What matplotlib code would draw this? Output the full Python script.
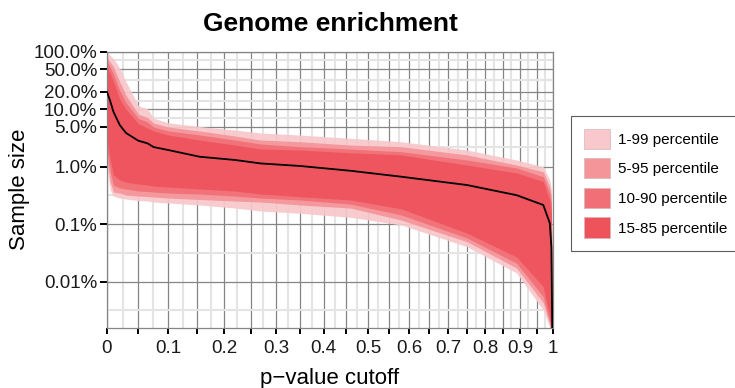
import numpy as np
import matplotlib
matplotlib.use("Agg")
import matplotlib.pyplot as plt
import matplotlib.patches as mpatches
from matplotlib.ticker import NullFormatter

plt.rcParams['font.family'] = ['Liberation Sans', 'DejaVu Sans']

# p-value cutoffs where the curves were read
pval = [0, 0.005, 0.01, 0.02, 0.03, 0.05, 0.065, 0.075, 0.1, 0.155, 0.22, 0.27,
        0.35, 0.46, 0.58, 0.75, 0.89, 0.97, 0.99, 0.995, 1.0]

# sample size (%) - percentile bands and median
u1 = [96, 86, 76, 52, 30, 11.5, 10.2, 7.0, 5.8, 5.0, 4.35, 3.86, 3.56, 3.12, 2.72, 1.95, 1.31, 1.0, 0.59, 0.4, 0.0001]
u5 = [80, 66, 55, 30, 17.5, 8.2, 7.2, 5.75, 4.9, 4.18, 3.42, 2.91, 2.72, 2.38, 2.23, 1.6, 1.07, 0.82, 0.45, 0.3, 0.0001]
u10 = [68, 54, 41, 21, 13, 6.9, 6.0, 4.9, 4.18, 3.56, 2.91, 2.48, 2.23, 2.03, 1.82, 1.31, 0.95, 0.67, 0.35, 0.22, 0.0001]
u15 = [57, 42, 30.5, 15, 10, 5.6, 4.71, 4.18, 3.56, 2.91, 2.38, 2.03, 1.95, 1.75, 1.6, 1.07, 0.78, 0.55, 0.26, 0.15, 0.0001]
med = [20, 13.9, 9.05, 5.31, 3.86, 2.83, 2.55, 2.2, 1.95, 1.49, 1.31, 1.14, 1.03, 0.85, 0.67, 0.48, 0.32, 0.216, 0.105, 0.04, 0.0001]
l15 = [2.9, 1.31, 0.72, 0.59, 0.54, 0.50, 0.48, 0.46, 0.444, 0.41, 0.378, 0.335, 0.301, 0.264, 0.185, 0.070, 0.027, 0.0082, 0.0025, 0.0012, 0.0001]
l10 = [1.95, 0.81, 0.48, 0.426, 0.41, 0.378, 0.37, 0.363, 0.349, 0.335, 0.309, 0.285, 0.264, 0.224, 0.145, 0.0575, 0.021, 0.0055, 0.002, 0.001, 0.0001]
l5 = [1.31, 0.54, 0.363, 0.349, 0.322, 0.309, 0.303, 0.297, 0.285, 0.269, 0.253, 0.243, 0.216, 0.191, 0.118, 0.0496, 0.0173, 0.0043, 0.0018, 0.0009, 0.0001]
l1 = [0.95, 0.39, 0.309, 0.285, 0.274, 0.258, 0.253, 0.243, 0.234, 0.216, 0.191, 0.170, 0.155, 0.132, 0.097, 0.0406, 0.0142, 0.0032, 0.0016, 0.0008, 0.0001]

band_labels = ["1-99 percentile", "5-95 percentile", "10-90 percentile", "15-85 percentile"]
band_colors = ["#f8c8cc", "#f4959a", "#f16f76", "#ee535c"]

y_breaks = [0.01, 0.1, 1, 5, 10, 20, 50, 100]
y_labels = ["0.01%", "0.1%", "1.0%", "5.0%", "10.0%", "20.0%", "50.0%", "100.0%"]
x_breaks = [round(0.05 * i, 2) for i in range(21)]
x_labels = ["0" if b == 0 else "1" if b == 1 else (f"{b:.1f}" if i % 2 == 0 else "")
            for i, b in enumerate(x_breaks)]


def fwd(x):
    return np.log2(1 + np.asarray(x, dtype=float))


def inv(y):
    return 2 ** np.asarray(y, dtype=float) - 1


fig = plt.figure(figsize=(7.35, 3.88), dpi=100)
ax = fig.add_axes([107 / 735, 1 - 327.5 / 388, 446 / 735, (327.5 - 51.7) / 388])

ax.set_xscale('function', functions=(fwd, inv))
ax.set_yscale('log')
ax.set_xlim(0, 1)
ax.set_ylim(1.6e-3, 100)

# bands, widest first
bands = [(l1, u1), (l5, u5), (l10, u10), (l15, u15)]
for (lo, hi), col in zip(bands, band_colors):
    ax.fill_between(pval, lo, hi, color=col, lw=0, alpha=0.93, zorder=2)
ax.plot(pval, med, color="black", lw=1.3, zorder=3)

# grid: major at breaks, minor halfway in transformed space
ax.set_yticks(y_breaks)
ax.set_yticklabels(y_labels)
y_all = [0.001] + y_breaks
y_minor = [np.sqrt(a * b) for a, b in zip(y_all[:-1], y_all[1:])]
ax.set_yticks(y_minor, minor=True)
ax.yaxis.set_minor_formatter(NullFormatter())

ax.set_xticks(x_breaks)
ax.set_xticklabels(x_labels)
x_minor = [np.sqrt((1 + a) * (1 + b)) - 1 for a, b in zip(x_breaks[:-1], x_breaks[1:])]
ax.set_xticks(x_minor, minor=True)
ax.xaxis.set_minor_formatter(NullFormatter())

ax.set_axisbelow(True)
ax.grid(which='minor', color='#e4e4e4', lw=1.5)
ax.grid(which='major', color='#858585', lw=0.9)
ax.tick_params(which='minor', length=0)
ax.tick_params(which='major', color='black', width=1.4, labelsize=13.5, labelcolor='#1a1a1a')
ax.tick_params(axis='y', length=5, pad=2)
ax.tick_params(axis='x', length=4, pad=5)
for s in ax.spines.values():
    s.set_color('#858585')
    s.set_linewidth(0.9)

ax.set_xlabel("p\u2212value cutoff", fontsize=16, labelpad=8)
fig.text(20 / 735, 1 - 189.6 / 388, "Sample size", fontsize=16, rotation=90,
         ha='center', va='center')
ax.set_title("Genome enrichment", fontsize=19, fontweight='bold', pad=15)

handles = [mpatches.Patch(facecolor=c, edgecolor='#d9b5b8', lw=0.5) for c in band_colors]
leg = fig.legend(handles, band_labels, loc='upper left',
                 bbox_to_anchor=(571 / 735, 1 - 115.7 / 388), bbox_transform=fig.transFigure,
                 fontsize=11, frameon=True, fancybox=False, borderaxespad=0,
                 handlelength=1.7, handleheight=1.65, handletextpad=0.5,
                 labelspacing=0.62, borderpad=0.85)
leg.get_frame().set_edgecolor('#333333')
leg.get_frame().set_linewidth(0.8)

fig.savefig("out.png", dpi=100)
